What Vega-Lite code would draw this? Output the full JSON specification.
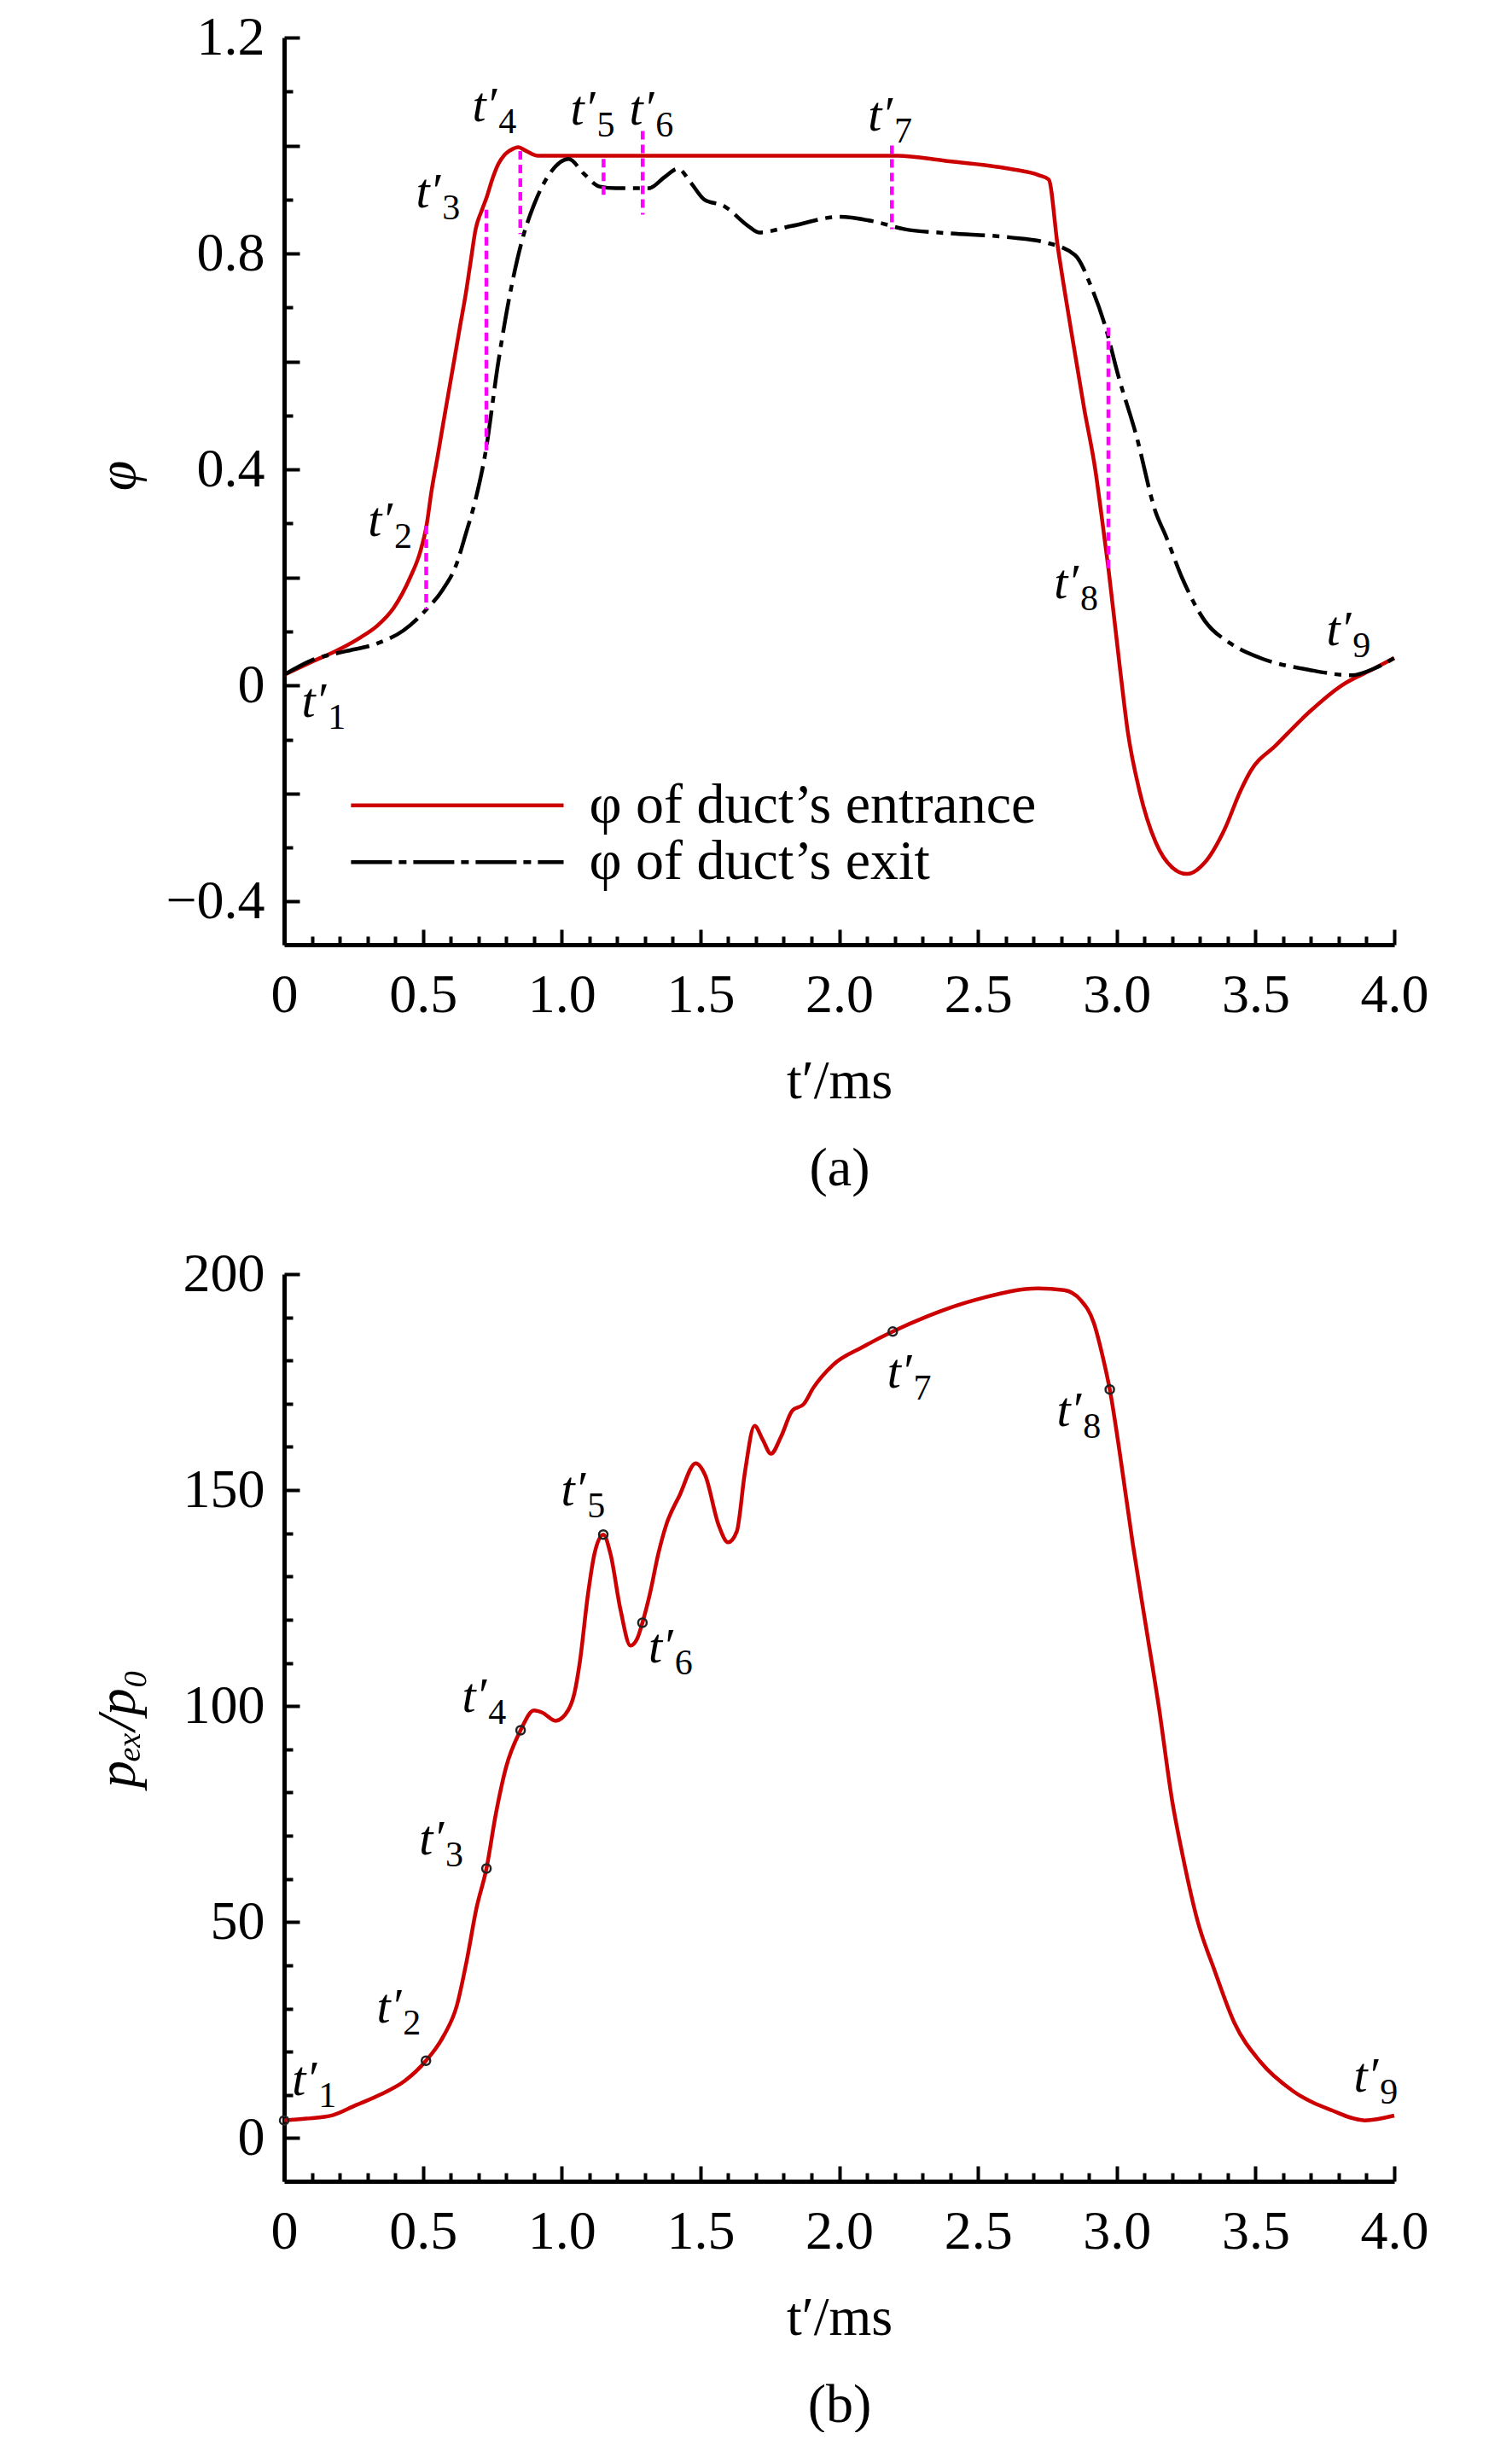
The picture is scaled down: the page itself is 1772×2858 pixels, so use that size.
{
  "$schema": "https://vega.github.io/schema/vega-lite/v6.json",
  "background": "white",
  "padding": {"left": 106, "top": 12, "right": 10, "bottom": 0},
  "spacing": 60,
  "config": {
    "view": {"stroke": null},
    "font": "Liberation Serif",
    "axis": {
      "grid": false,
      "domainColor": "black",
      "domainWidth": 5,
      "tickColor": "black",
      "tickWidth": 4,
      "labelFont": "Liberation Serif",
      "labelFontSize": 64,
      "labelColor": "black",
      "labelOverlap": false,
      "labelFlush": false,
      "labelBound": false,
      "titleFont": "Liberation Serif",
      "titleFontSize": 64,
      "titleFontWeight": "normal",
      "titleColor": "black"
    }
  },
  "datasets": {
    "phi": [
      {"s": "in", "t": 0, "v": 0.02}, {"s": "in", "t": 0.1, "v": 0.044}, {"s": "in", "t": 0.195, "v": 0.066},
      {"s": "in", "t": 0.278, "v": 0.09}, {"s": "in", "t": 0.336, "v": 0.111}, {"s": "in", "t": 0.395, "v": 0.144},
      {"s": "in", "t": 0.454, "v": 0.2}, {"s": "in", "t": 0.49, "v": 0.247}, {"s": "in", "t": 0.513, "v": 0.296},
      {"s": "in", "t": 0.531, "v": 0.36}, {"s": "in", "t": 0.555, "v": 0.43}, {"s": "in", "t": 0.572, "v": 0.482},
      {"s": "in", "t": 0.613, "v": 0.603}, {"s": "in", "t": 0.633, "v": 0.663}, {"s": "in", "t": 0.654, "v": 0.724},
      {"s": "in", "t": 0.672, "v": 0.785}, {"s": "in", "t": 0.69, "v": 0.845}, {"s": "in", "t": 0.713, "v": 0.881},
      {"s": "in", "t": 0.731, "v": 0.906}, {"s": "in", "t": 0.749, "v": 0.936}, {"s": "in", "t": 0.772, "v": 0.966},
      {"s": "in", "t": 0.796, "v": 0.984}, {"s": "in", "t": 0.825, "v": 0.994}, {"s": "in", "t": 0.843, "v": 0.997},
      {"s": "in", "t": 0.872, "v": 0.99}, {"s": "in", "t": 0.914, "v": 0.981}, {"s": "in", "t": 1.0, "v": 0.981},
      {"s": "in", "t": 1.5, "v": 0.981}, {"s": "in", "t": 2.0, "v": 0.981}, {"s": "in", "t": 2.21, "v": 0.981},
      {"s": "in", "t": 2.378, "v": 0.972}, {"s": "in", "t": 2.614, "v": 0.957}, {"s": "in", "t": 2.72, "v": 0.945},
      {"s": "in", "t": 2.755, "v": 0.937}, {"s": "in", "t": 2.787, "v": 0.815}, {"s": "in", "t": 2.834, "v": 0.663},
      {"s": "in", "t": 2.883, "v": 0.512}, {"s": "in", "t": 2.923, "v": 0.399}, {"s": "in", "t": 2.944, "v": 0.32},
      {"s": "in", "t": 2.97, "v": 0.217}, {"s": "in", "t": 3.011, "v": 0.035}, {"s": "in", "t": 3.04, "v": -0.086},
      {"s": "in", "t": 3.082, "v": -0.195}, {"s": "in", "t": 3.141, "v": -0.291}, {"s": "in", "t": 3.2, "v": -0.337},
      {"s": "in", "t": 3.253, "v": -0.349}, {"s": "in", "t": 3.317, "v": -0.328}, {"s": "in", "t": 3.388, "v": -0.267},
      {"s": "in", "t": 3.446, "v": -0.195}, {"s": "in", "t": 3.483, "v": -0.158}, {"s": "in", "t": 3.575, "v": -0.11},
      {"s": "in", "t": 3.694, "v": -0.049}, {"s": "in", "t": 3.81, "v": 0.0}, {"s": "in", "t": 3.93, "v": 0.032},
      {"s": "in", "t": 4.0, "v": 0.051},
      {"s": "out", "t": 0, "v": 0.02}, {"s": "out", "t": 0.1, "v": 0.047}, {"s": "out", "t": 0.218, "v": 0.063},
      {"s": "out", "t": 0.336, "v": 0.078}, {"s": "out", "t": 0.43, "v": 0.102}, {"s": "out", "t": 0.513, "v": 0.141},
      {"s": "out", "t": 0.572, "v": 0.178}, {"s": "out", "t": 0.619, "v": 0.222}, {"s": "out", "t": 0.654, "v": 0.28},
      {"s": "out", "t": 0.69, "v": 0.345}, {"s": "out", "t": 0.725, "v": 0.43}, {"s": "out", "t": 0.772, "v": 0.6},
      {"s": "out", "t": 0.818, "v": 0.736}, {"s": "out", "t": 0.855, "v": 0.82}, {"s": "out", "t": 0.9, "v": 0.89},
      {"s": "out", "t": 0.96, "v": 0.95}, {"s": "out", "t": 1.025, "v": 0.975}, {"s": "out", "t": 1.08, "v": 0.948},
      {"s": "out", "t": 1.137, "v": 0.924}, {"s": "out", "t": 1.196, "v": 0.921}, {"s": "out", "t": 1.314, "v": 0.921},
      {"s": "out", "t": 1.372, "v": 0.942}, {"s": "out", "t": 1.419, "v": 0.957}, {"s": "out", "t": 1.467, "v": 0.93},
      {"s": "out", "t": 1.514, "v": 0.9}, {"s": "out", "t": 1.585, "v": 0.888}, {"s": "out", "t": 1.672, "v": 0.851},
      {"s": "out", "t": 1.711, "v": 0.839}, {"s": "out", "t": 1.829, "v": 0.851}, {"s": "out", "t": 2.0, "v": 0.868},
      {"s": "out", "t": 2.12, "v": 0.86}, {"s": "out", "t": 2.237, "v": 0.845}, {"s": "out", "t": 2.38, "v": 0.838},
      {"s": "out", "t": 2.614, "v": 0.83}, {"s": "out", "t": 2.74, "v": 0.821}, {"s": "out", "t": 2.85, "v": 0.797},
      {"s": "out", "t": 2.91, "v": 0.736}, {"s": "out", "t": 2.96, "v": 0.663}, {"s": "out", "t": 3.006, "v": 0.573},
      {"s": "out", "t": 3.07, "v": 0.464}, {"s": "out", "t": 3.141, "v": 0.32}, {"s": "out", "t": 3.176, "v": 0.278},
      {"s": "out", "t": 3.235, "v": 0.2}, {"s": "out", "t": 3.317, "v": 0.12}, {"s": "out", "t": 3.41, "v": 0.078},
      {"s": "out", "t": 3.517, "v": 0.051}, {"s": "out", "t": 3.694, "v": 0.029}, {"s": "out", "t": 3.846, "v": 0.019},
      {"s": "out", "t": 3.93, "v": 0.032}, {"s": "out", "t": 4.0, "v": 0.051}
    ],
    "marksA": [
      {"t": 0.512, "v": 0.296, "v2": 0.141}, {"t": 0.729, "v": 0.881, "v2": 0.427},
      {"t": 0.851, "v": 0.99, "v2": 0.836}, {"t": 1.151, "v": 0.975, "v2": 0.902},
      {"t": 1.292, "v": 1.027, "v2": 0.872}, {"t": 2.19, "v": 1.0, "v2": 0.845},
      {"t": 2.97, "v": 0.663, "v2": 0.217}
    ],
    "labelsA": [
      {"n": "1", "t": 0.139, "v": -0.034}, {"n": "2", "t": 0.378, "v": 0.3}, {"n": "3", "t": 0.551, "v": 0.909},
      {"n": "4", "t": 0.754, "v": 1.069}, {"n": "5", "t": 1.108, "v": 1.063}, {"n": "6", "t": 1.32, "v": 1.063},
      {"n": "7", "t": 2.18, "v": 1.051}, {"n": "8", "t": 2.85, "v": 0.186}, {"n": "9", "t": 3.832, "v": 0.098}
    ],
    "legendA": [
      {"s": "in", "t": 0.241, "t2": 1.007, "v": -0.222, "label": "φ of duct’s entrance"},
      {"s": "out", "t": 0.241, "t2": 1.007, "v": -0.327, "label": "φ of duct’s exit"}
    ],
    "pex": [
      {"t": 0.0, "v": 4.1}, {"t": 0.08, "v": 4.5}, {"t": 0.175, "v": 5.3}, {"t": 0.258, "v": 7.6},
      {"t": 0.351, "v": 10.2}, {"t": 0.434, "v": 13.2}, {"t": 0.511, "v": 17.9}, {"t": 0.576, "v": 23.8},
      {"t": 0.622, "v": 30.6}, {"t": 0.658, "v": 41.1}, {"t": 0.693, "v": 53.2}, {"t": 0.729, "v": 62.4},
      {"t": 0.763, "v": 75.1}, {"t": 0.799, "v": 85.7}, {"t": 0.852, "v": 94.4}, {"t": 0.9, "v": 99.0},
      {"t": 0.93, "v": 98.5}, {"t": 0.978, "v": 96.6}, {"t": 1.023, "v": 99.0}, {"t": 1.046, "v": 103},
      {"t": 1.065, "v": 110}, {"t": 1.095, "v": 126}, {"t": 1.118, "v": 135.2}, {"t": 1.15, "v": 139.7},
      {"t": 1.176, "v": 135.2}, {"t": 1.212, "v": 122.3}, {"t": 1.248, "v": 114}, {"t": 1.272, "v": 115.6},
      {"t": 1.291, "v": 119.3}, {"t": 1.318, "v": 126}, {"t": 1.348, "v": 135.2}, {"t": 1.377, "v": 142},
      {"t": 1.425, "v": 148.8}, {"t": 1.483, "v": 156.2}, {"t": 1.518, "v": 153.3}, {"t": 1.565, "v": 142},
      {"t": 1.6, "v": 137.9}, {"t": 1.631, "v": 140.4}, {"t": 1.66, "v": 154}, {"t": 1.695, "v": 164.9},
      {"t": 1.725, "v": 161.6}, {"t": 1.754, "v": 158.4}, {"t": 1.79, "v": 162.3}, {"t": 1.831, "v": 168.4},
      {"t": 1.872, "v": 169.9}, {"t": 1.907, "v": 173.7}, {"t": 1.978, "v": 179}, {"t": 2.084, "v": 183.1},
      {"t": 2.193, "v": 186.7}, {"t": 2.32, "v": 190.3}, {"t": 2.517, "v": 194.5}, {"t": 2.716, "v": 196.7},
      {"t": 2.81, "v": 196.3}, {"t": 2.87, "v": 194}, {"t": 2.917, "v": 188.8}, {"t": 2.951, "v": 180.5},
      {"t": 2.975, "v": 173.3}, {"t": 3.011, "v": 158.6}, {"t": 3.058, "v": 137.5}, {"t": 3.105, "v": 118.6},
      {"t": 3.152, "v": 99.7}, {"t": 3.2, "v": 78}, {"t": 3.238, "v": 65.3}, {"t": 3.292, "v": 50.1},
      {"t": 3.352, "v": 38.9}, {"t": 3.423, "v": 26.8}, {"t": 3.517, "v": 17.7}, {"t": 3.635, "v": 10.9},
      {"t": 3.776, "v": 6.4}, {"t": 3.894, "v": 4.1}, {"t": 4.0, "v": 5.2}
    ],
    "marksB": [
      {"t": 0.0, "v": 4.1}, {"t": 0.511, "v": 17.9}, {"t": 0.729, "v": 62.4}, {"t": 0.852, "v": 94.4},
      {"t": 1.15, "v": 139.7}, {"t": 1.291, "v": 119.3}, {"t": 2.193, "v": 186.7}, {"t": 2.975, "v": 173.3}
    ],
    "labelsB": [
      {"n": "1", "t": 0.105, "v": 13.0}, {"n": "2", "t": 0.41, "v": 29.7}, {"n": "3", "t": 0.563, "v": 68.6},
      {"n": "4", "t": 0.717, "v": 101.6}, {"n": "5", "t": 1.074, "v": 149.4}, {"n": "6", "t": 1.389, "v": 113.1},
      {"n": "7", "t": 2.249, "v": 176.7}, {"n": "8", "t": 2.86, "v": 167.8}, {"n": "9", "t": 3.93, "v": 13.8}
    ]
  },
  "vconcat": [
    {
      "width": 1301,
      "height": 1063,
      "encoding": {
        "x": {
          "field": "t", "type": "quantitative",
          "scale": {"domain": [0, 4], "nice": false},
          "axis": {
            "values": [0,0.1,0.2,0.3,0.4,0.5,0.6,0.7,0.8,0.9,1,1.1,1.2,1.3,1.4,1.5,1.6,1.7,1.8,1.9,2,2.1,2.2,2.3,2.4,2.5,2.6,2.7,2.8,2.9,3,3.1,3.2,3.3,3.4,3.5,3.6,3.7,3.8,3.9,4],
            "labelExpr": "round(datum.value*10) % 5 == 0 ? (datum.value == 0 ? '0' : format(datum.value, '.1f')) : ''",
            "tickSize": {"condition": {"test": "round(datum.value*10) % 5 == 0", "value": -18}, "value": -10},
            "labelPadding": 45,
            "title": ["t′/ms", "(a)"],
            "titleY": 179,
            "titleBaseline": "alphabetic",
            "titleLineHeight": 102
          }
        },
        "y": {
          "field": "v", "type": "quantitative",
          "scale": {"domain": [-0.48, 1.2], "nice": false, "zero": false},
          "axis": {
            "values": [-0.4,-0.3,-0.2,-0.1,0,0.1,0.2,0.3,0.4,0.5,0.6,0.7,0.8,0.9,1,1.1,1.2],
            "labelExpr": "round(datum.value*10) % 4 == 0 ? (datum.value == 0 ? '0' : format(datum.value, '.1f')) : ''",
            "tickSize": {"condition": {"test": "round(datum.value*10) % 2 == 0", "value": -18}, "value": -10},
            "labelPadding": 41,
            "title": "φ",
            "titleFontStyle": "italic",
            "titleX": -195,
            "titleY": 513,
            "titleBaseline": "middle"
          }
        }
      },
      "layer": [
        {
          "data": {"name": "phi"},
          "transform": [{"filter": "datum.s == 'in'"}],
          "mark": {"type": "line", "color": "#cc0000", "strokeWidth": 4.5, "interpolate": "monotone"}
        },
        {
          "data": {"name": "phi"},
          "transform": [{"filter": "datum.s == 'out'"}],
          "mark": {"type": "line", "color": "black", "strokeWidth": 4.5, "strokeDash": [40, 9, 8, 9], "interpolate": "monotone"}
        },
        {
          "data": {"name": "marksA"},
          "mark": {"type": "rule", "color": "#ff00ff", "strokeWidth": 4.5, "strokeDash": [10, 6]},
          "encoding": {"y2": {"field": "v2"}}
        },
        {
          "data": {"name": "legendA"},
          "transform": [{"filter": "datum.s == 'in'"}],
          "mark": {"type": "rule", "color": "#cc0000", "strokeWidth": 4.5},
          "encoding": {"x2": {"field": "t2"}}
        },
        {
          "data": {"name": "legendA"},
          "transform": [{"filter": "datum.s == 'out'"}],
          "mark": {"type": "rule", "color": "black", "strokeWidth": 4.5, "strokeDash": [48, 8, 9, 8]},
          "encoding": {"x2": {"field": "t2"}}
        },
        {
          "data": {"name": "legendA"},
          "mark": {"type": "text", "align": "left", "baseline": "middle", "dx": 30, "fontSize": 66, "font": "Liberation Serif", "color": "black"},
          "encoding": {"x": {"field": "t2", "type": "quantitative"}, "text": {"field": "label"}}
        },
        {
          "data": {"name": "labelsA"},
          "mark": {"type": "text", "align": "right", "baseline": "alphabetic", "dx": 4, "dy": 15, "fontSize": 58, "fontStyle": "italic", "font": "Liberation Serif", "color": "black"},
          "encoding": {"text": {"value": "t′"}}
        },
        {
          "data": {"name": "labelsA"},
          "mark": {"type": "text", "align": "left", "baseline": "alphabetic", "dx": 6, "dy": 29, "fontSize": 42, "font": "Liberation Serif", "color": "black"},
          "encoding": {"text": {"field": "n"}}
        }
      ]
    },
    {
      "width": 1301,
      "height": 1063,
      "encoding": {
        "x": {
          "field": "t", "type": "quantitative",
          "scale": {"domain": [0, 4], "nice": false},
          "axis": {
            "values": [0,0.1,0.2,0.3,0.4,0.5,0.6,0.7,0.8,0.9,1,1.1,1.2,1.3,1.4,1.5,1.6,1.7,1.8,1.9,2,2.1,2.2,2.3,2.4,2.5,2.6,2.7,2.8,2.9,3,3.1,3.2,3.3,3.4,3.5,3.6,3.7,3.8,3.9,4],
            "labelExpr": "round(datum.value*10) % 5 == 0 ? (datum.value == 0 ? '0' : format(datum.value, '.1f')) : ''",
            "tickSize": {"condition": {"test": "round(datum.value*10) % 5 == 0", "value": -18}, "value": -10},
            "labelPadding": 45,
            "title": ["t′/ms", "(b)"],
            "titleY": 179,
            "titleBaseline": "alphabetic",
            "titleLineHeight": 102
          }
        },
        "y": {
          "field": "v", "type": "quantitative",
          "scale": {"domain": [-10, 200], "nice": false, "zero": false},
          "axis": {
            "values": [0,10,20,30,40,50,60,70,80,90,100,110,120,130,140,150,160,170,180,190,200],
            "labelExpr": "datum.value % 50 == 0 ? format(datum.value, 'd') : ''",
            "tickSize": {"condition": {"test": "datum.value % 50 == 0", "value": -18}, "value": -10},
            "labelPadding": 41,
            "title": "pₑₓ/p₀",
            "titleFontStyle": "italic",
            "titleX": -195,
            "titleY": 532,
            "titleBaseline": "middle"
          }
        }
      },
      "layer": [
        {
          "data": {"name": "pex"},
          "mark": {"type": "line", "color": "#cc0000", "strokeWidth": 4.5, "interpolate": "monotone"}
        },
        {
          "data": {"name": "marksB"},
          "mark": {"type": "point", "shape": "circle", "filled": false, "size": 100, "stroke": "#222222", "strokeWidth": 2.5, "opacity": 1}
        },
        {
          "data": {"name": "labelsB"},
          "mark": {"type": "text", "align": "right", "baseline": "alphabetic", "dx": 4, "dy": 15, "fontSize": 58, "fontStyle": "italic", "font": "Liberation Serif", "color": "black"},
          "encoding": {"text": {"value": "t′"}}
        },
        {
          "data": {"name": "labelsB"},
          "mark": {"type": "text", "align": "left", "baseline": "alphabetic", "dx": 6, "dy": 29, "fontSize": 42, "font": "Liberation Serif", "color": "black"},
          "encoding": {"text": {"field": "n"}}
        }
      ]
    }
  ]
}
